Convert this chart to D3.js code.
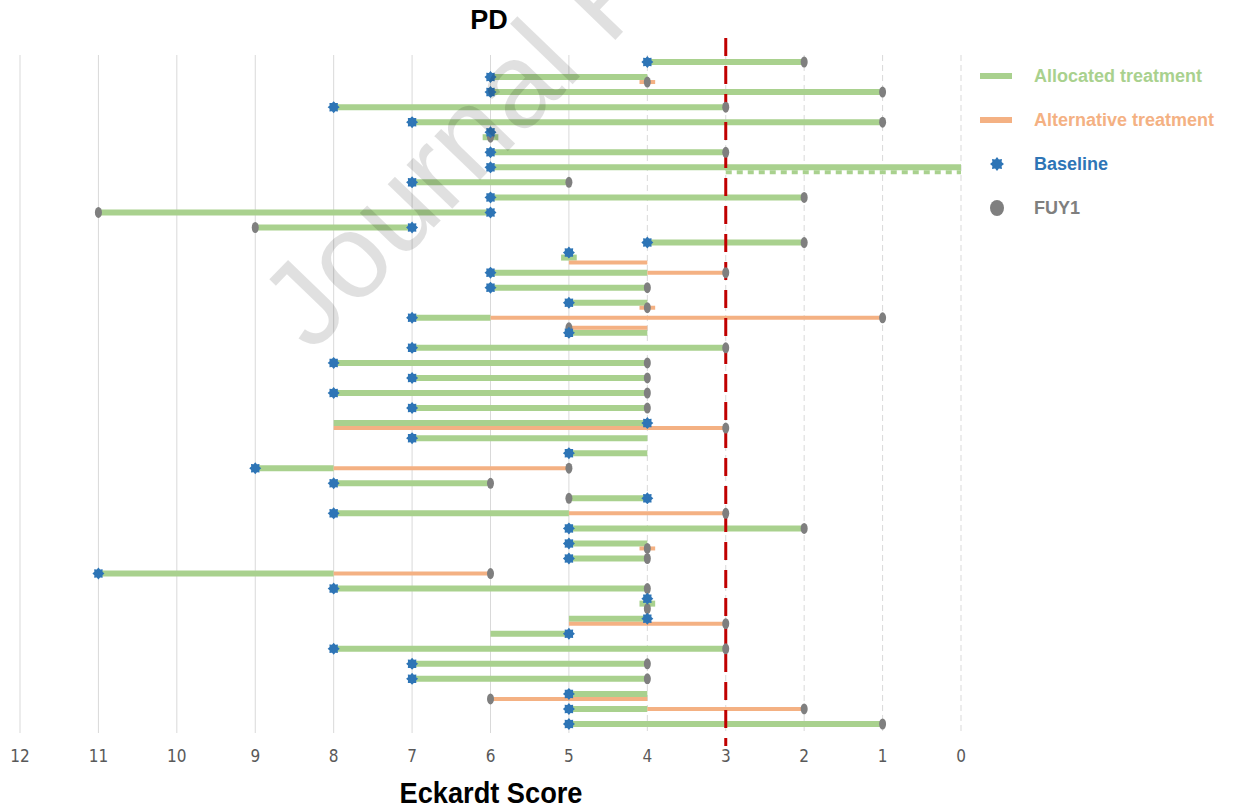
<!DOCTYPE html>
<html>
<head>
<meta charset="utf-8">
<script src="https://cdn.jsdelivr.net/npm/d3@7"></script>
<style>
  body { margin: 0; background: #fff; }
  svg { display: block; font-family: "Liberation Sans", Arial, sans-serif; }
</style>
</head>
<body>
<div class="container"></div>
<script>
var svgWidth = 1233;
var svgHeight = 810;

// one entry per patient, top row first
var patients = d3.range(1, 46);
var baseline = [4, 6, 6, 8, 7, 6, 6, 6, 7, 6, 6, 7, 4, 5, 6, 6, 5, 7, 5, 7, 8, 7, 8, 7, 4, 7, 5, 9, 8, 4, 8, 5, 5, 5, 11, 8, 4, 4, 5, 8, 7, 7, 5, 5, 5];
var fuy1 = [2, 4, 1, 3, 1, 6, 3, null, 5, 2, 11, 9, 2, null, 3, 4, 4, 1, 5, 3, 4, 4, 4, 4, 3, null, null, 5, 6, 5, 3, 2, 4, 4, 6, 4, 4, 3, null, 3, 4, 4, 6, 2, 1];
var allocated = [[4, 2], [6, 4], [6, 1], [8, 3], [7, 1], [6.1, 5.9], [6, 3], [6, 0], [7, 5], [6, 2], [6, 11], [7, 9],
  [4, 2], [5.1, 4.9], [6, 4], [6, 4], [5, 4], [7, 6], [5, 4], [7, 3], [8, 4], [7, 4], [8, 4], [7, 4], [8, 4], [7, 4],
  [5, 4], [9, 8], [8, 6], [5, 4], [8, 5], [5, 2], [5, 4], [5, 4], [11, 8], [8, 4], [4.1, 3.9], [5, 4], [6, 5], [8, 3],
  [7, 4], [7, 4], [5, 4], [5, 4], [5, 1]];
var alternative = [null, [4.1, 3.9], null, null, null, null, null, null, null, null, null, null,
  null, [5, 4], [4, 3], null, [4.1, 3.9], [6, 1], [5, 4], null, null, null, null, null, [8, 3], null,
  null, [8, 5], null, null, [5, 3], null, [4.1, 3.9], null, [8, 6], null, null, [5, 3], null, null,
  null, null, [6, 4], [4, 2], null];
// score beyond the end of the scale (dotted)
var offScale = { 7: [3, 0] };

// sub-line inside a patient row
var baseLane = ["mid", "mid", "mid", "mid", "mid", "hi", "mid", "mid", "mid", "mid", "mid", "mid", "mid", "hi", "mid", "mid", "mid", "mid", "mid", "mid", "mid", "mid", "mid", "mid", "mid", "mid", "mid", "mid", "mid", "mid", "mid", "mid", "mid", "mid", "mid", "mid", "hi", "mid", "mid", "mid", "mid", "mid", "mid", "mid", "mid"];
var altLane = ["mid", "lo", "mid", "mid", "mid", "mid", "mid", "mid", "mid", "mid", "mid", "mid", "mid", "lo", "mid", "mid", "lo", "mid", "hi", "mid", "mid", "mid", "mid", "mid", "lo", "mid", "mid", "mid", "mid", "mid", "mid", "mid", "lo", "mid", "mid", "mid", "mid", "lo", "mid", "mid", "mid", "mid", "lo", "mid", "mid"];
var fuyLane = ["mid", "lo", "mid", "mid", "mid", "mid", "mid", "mid", "mid", "mid", "mid", "mid", "mid", "mid", "mid", "mid", "lo", "mid", "hi", "mid", "mid", "mid", "mid", "mid", "lo", "mid", "mid", "mid", "mid", "mid", "mid", "mid", "lo", "mid", "mid", "mid", "lo", "lo", "mid", "mid", "mid", "mid", "lo", "mid", "mid"];

var xTicks = d3.range(12, -1, -1);
var cutoff = 3;
var legendItems = ["Allocated treatment", "Alternative treatment", "Baseline", "FUY1"];

var green = "#a9d18e", orange = "#f4b183", blue = "#2e75b6", grey = "#7f7f7f";

var svg = d3.select(".container")
    .append("svg")
    .attr("width", svgWidth)
    .attr("height", svgHeight);

var x = d3.scaleLinear().domain([12, 0]).range([20, 961]);
var y = d3.scalePoint().domain(patients).range([62, 724]);
var lane = d3.scalePoint().domain(["hi", "mid", "lo"]).range([-5, 5]);

function starPath(R, r, n) {
    var pts = [];
    for (var i = 0; i < n * 2; i++) {
        var a = Math.PI * i / n - Math.PI / 2;
        var rad = i % 2 ? r : R;
        pts.push([Math.cos(a) * rad, Math.sin(a) * rad]);
    }
    return "M" + pts.map(p => p[0].toFixed(2) + "," + p[1].toFixed(2)).join("L") + "Z";
}

// gridlines
svg.append("g").selectAll("line")
    .data(xTicks)
    .enter()
    .append("line")
    .attr("x1", d => x(d)).attr("x2", d => x(d))
    .attr("y1", 55).attr("y2", 733)
    .attr("stroke", "#d9d9d9")
    .attr("stroke-width", 1)
    .attr("stroke-dasharray", d => d <= 4 ? "6,4" : null);

// tick labels
svg.append("g").selectAll("text")
    .data(xTicks)
    .enter()
    .append("text")
    .attr("x", d => x(d))
    .attr("y", 762)
    .attr("text-anchor", "middle")
    .style("font-family", "'Liberation Sans Narrow', 'DejaVu Sans Condensed', sans-serif")
    .style("font-size", "17px")
    .attr("fill", "#595959")
    .text(d => d);

var rows = patients.map((p, i) => ({
    p: p, base: baseline[i], fuy: fuy1[i], alloc: allocated[i], alt: alternative[i],
    bl: baseLane[i], al: altLane[i], fl: fuyLane[i]
}));

// allocated treatment
svg.append("g").selectAll("line")
    .data(rows)
    .enter()
    .append("line")
    .attr("x1", d => x(d.alloc[0])).attr("x2", d => x(d.alloc[1]))
    .attr("y1", d => y(d.p) + lane("mid")).attr("y2", d => y(d.p) + lane("mid"))
    .attr("stroke", green).attr("stroke-width", 6);

// off-scale dotted part
svg.append("g").selectAll("line")
    .data(Object.keys(offScale))
    .enter()
    .append("line")
    .attr("x1", d => x(offScale[d][0])).attr("x2", d => x(offScale[d][1]))
    .attr("y1", d => y(patients[+d]) + 5).attr("y2", d => y(patients[+d]) + 5)
    .attr("stroke", green).attr("stroke-width", 4)
    .attr("stroke-dasharray", "6,5");

// alternative treatment
svg.append("g").selectAll("line")
    .data(rows.filter(d => d.alt))
    .enter()
    .append("line")
    .attr("x1", d => x(d.alt[0])).attr("x2", d => x(d.alt[1]))
    .attr("y1", d => y(d.p) + lane(d.al)).attr("y2", d => y(d.p) + lane(d.al))
    .attr("stroke", orange).attr("stroke-width", 4);

// cut-off line
svg.append("line")
    .attr("x1", x(cutoff)).attr("x2", x(cutoff))
    .attr("y1", 38).attr("y2", 746)
    .attr("stroke", "#c00000")
    .attr("stroke-width", 3)
    .attr("stroke-dasharray", "18,10");

// FUY1
svg.append("g").selectAll("ellipse")
    .data(rows.filter(d => d.fuy != null))
    .enter()
    .append("ellipse")
    .attr("cx", d => x(d.fuy))
    .attr("cy", d => y(d.p) + lane(d.fl))
    .attr("rx", 3.5).attr("ry", 5.5)
    .attr("fill", grey);

// baseline
svg.append("g").selectAll("path")
    .data(rows)
    .enter()
    .append("path")
    .attr("d", starPath(6, 4.4, 8))
    .attr("transform", d => `translate(${x(d.base)}, ${y(d.p) + lane(d.bl)})`)
    .attr("fill", blue);

// legend
var legend = svg.append("g");
var legendY = d3.scalePoint().domain(legendItems).range([76, 208]);
var legendColors = [green, orange, blue, grey];
legend.selectAll("text")
    .data(legendItems)
    .enter()
    .append("text")
    .attr("x", 1034)
    .attr("y", d => legendY(d) + 6)
    .attr("fill", (d, i) => legendColors[i])
    .style("font-size", "18px")
    .style("font-weight", "bold")
    .text(d => d);
legend.append("line")
    .attr("x1", 980).attr("x2", 1012)
    .attr("y1", legendY(legendItems[0])).attr("y2", legendY(legendItems[0]))
    .attr("stroke", green).attr("stroke-width", 6);
legend.append("line")
    .attr("x1", 980).attr("x2", 1012)
    .attr("y1", legendY(legendItems[1])).attr("y2", legendY(legendItems[1]))
    .attr("stroke", orange).attr("stroke-width", 6);
legend.append("path")
    .attr("d", starPath(7, 5, 8))
    .attr("transform", `translate(997, ${legendY(legendItems[2])})`)
    .attr("fill", blue);
legend.append("ellipse")
    .attr("cx", 997).attr("cy", legendY(legendItems[3]))
    .attr("rx", 7).attr("ry", 8)
    .attr("fill", grey);

// titles
svg.append("text")
    .attr("x", 489).attr("y", 29)
    .attr("text-anchor", "middle")
    .style("font-size", "27px")
    .style("font-weight", "bold")
    .text("PD");
svg.append("text")
    .attr("x", 491).attr("y", 803)
    .attr("text-anchor", "middle")
    .attr("textLength", 183)
    .attr("lengthAdjust", "spacingAndGlyphs")
    .style("font-size", "30px")
    .style("font-weight", "bold")
    .text("Eckardt Score");

// watermark
svg.append("text")
    .attr("transform", "translate(312, 354) rotate(-46)")
    .attr("fill", "#000")
    .attr("fill-opacity", 0.12)
    .style("font-size", "120px")
    .text("Journal Pre-proof");
</script>
</body>
</html>
